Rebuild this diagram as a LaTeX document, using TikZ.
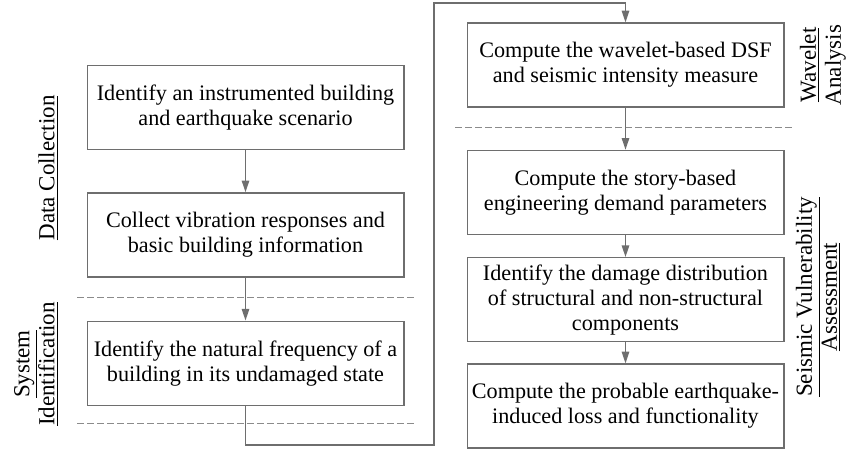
\documentclass[tikz,border=0pt]{standalone}
\usepackage{fontspec}
\setmainfont{Liberation Serif}
\usetikzlibrary{positioning, arrows.meta, calc}
\definecolor{linegray}{RGB}{110,110,110}
\tikzset{
    x=0.6pt, y=-0.6pt, % one unit is one pixel of the layout
    task/.style={
            draw=linegray,
            line width=0.8pt,
            minimum width=190pt, % set the width of every box
            minimum height=50.4pt,
            inner sep=1pt,
            align=center,
            font=\fontsize{13.3}{15}\selectfont
        },
    flow/.style={->, >={Triangle[length=7pt,width=4.5pt]}, draw=linegray, line width=0.8pt},
    sep/.style={draw=linegray!80, dash pattern=on 4pt off 2pt, line width=0.6pt},
    phase/.style={rotate=90, align=center, inner sep=1pt, font=\fontsize{13.8}{15}\selectfont}
}
\begin{document}
\begin{tikzpicture}
                \useasboundingbox (0,0) rectangle (847,449);

                % nodes
                \node[task] (s1) at (245.5,107.5) {Identify an instrumented building\\and earthquake scenario};
                \node[task, below=25.2pt of s1] (s2) {Collect vibration responses and\\basic building information};
                \node[task, below=25.8pt of s2] (s3) {Identify the natural frequency of a\\building in its undamaged state};
                \node[task] (s4) at (625.5,65) {Compute the wavelet-based DSF\\and seismic intensity measure};
                \node[task, below=25.2pt of s4] (s5) {Compute the story-based\\engineering demand parameters};
                \node[task, below=13.2pt of s5] (s6) {Identify the damage distribution\\of structural and non-structural\\components};
                \node[task, below=12.6pt of s6] (s7) {Compute the probable earthquake-\\induced loss and functionality};

                % phase labels
                \node[phase, anchor=south] (p1) at (60,168) {\underline{Data Collection}};
                \node[phase, anchor=south] (p2) at (60,364) {\underline{System}\\\underline{Identification}};
                \node[phase, anchor=north] (p3) at (798,65) {\underline{Wavelet}\\\underline{Analysis}};
                \node[phase, anchor=north] (p4) at (794,297) {\underline{Seismic Vulnerability}\\\underline{Assessment}};

                % separators
                \draw[sep] (77,297) -- (415,297);
                \draw[sep] (77,423) -- (415,423);
                \draw[sep] (455,127) -- (794,127);

                % edges
                \coordinate (bot) at (434,445);
                \coordinate (top) at (434,3);
                \draw[flow] (s1) -- (s2);
                \draw[flow] (s2) -- (s3);
                \draw[flow] (s3.south) |- (bot) -- (top) -| (s4.north);
                \draw[flow] (s4) -- (s5);
                \draw[flow] (s5) -- (s6);
                \draw[flow] (s6) -- (s7);
\end{tikzpicture}
\end{document}
